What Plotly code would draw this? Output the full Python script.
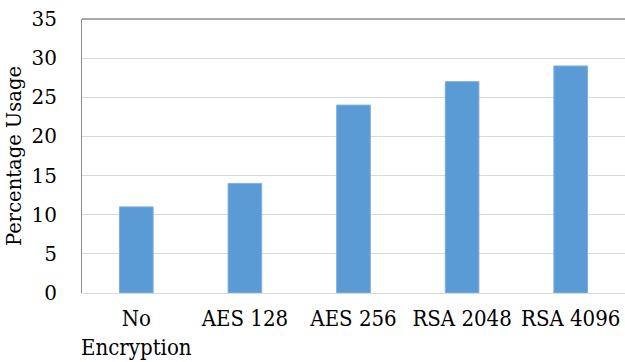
import plotly.graph_objects as go

categories = ["No<br>Encryption", "AES 128", "AES 256", "RSA 2048", "RSA 4096"]
usage = [11, 14, 24, 27, 29]
y_ticks = [0, 5, 10, 15, 20, 25, 30, 35]

FONT = "DejaVu Serif"
FONT_X = "DejaVu Serif Condensed"

fig = go.Figure(
    go.Bar(
        x=categories,
        y=usage,
        marker=dict(color="#5B9BD5", line=dict(color="#7FB0DE", width=1)),
        width=0.31,
    )
)

fig.update_layout(
    width=625,
    height=362,
    margin=dict(l=82, r=0, t=19, b=69),
    paper_bgcolor="white",
    plot_bgcolor="white",
    showlegend=False,
    font=dict(family=FONT, size=20, color="black"),
    bargap=0.69,
)

fig.update_xaxes(
    showgrid=False,
    showline=False,
    ticks="",
    ticklabelstandoff=10,
    tickfont=dict(family=FONT_X, size=22, color="black"),
)

fig.update_yaxes(
    range=[0, 35],
    tickvals=y_ticks,
    showgrid=True,
    gridcolor="#d9d9d9",
    gridwidth=1,
    zeroline=True,
    zerolinecolor="#d9d9d9",
    zerolinewidth=1,
    showline=True,
    linecolor="#8c8c8c",
    linewidth=1,
    ticks="",
    ticklabelstandoff=20,
    tickfont=dict(family=FONT, size=20, color="black"),
    title=dict(text="Percentage Usage", font=dict(family=FONT, size=19.5, color="black"), standoff=4),
)

# darker frame line along the top of the plot area
fig.add_shape(
    type="line", xref="paper", yref="paper",
    x0=0, x1=1, y0=1, y1=1,
    line=dict(color="#8c8c8c", width=1.5),
)

fig.write_html("out.html")
